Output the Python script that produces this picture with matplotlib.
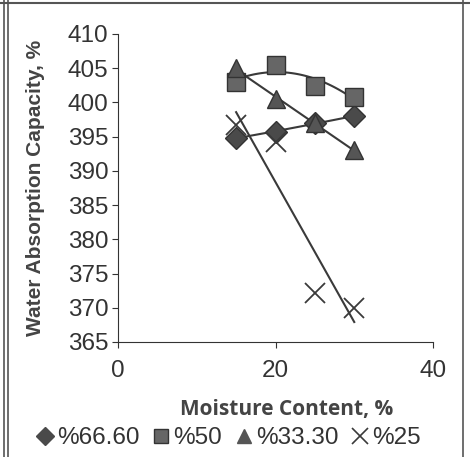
import numpy as np
import matplotlib.pyplot as plt
from matplotlib.lines import Line2D

# data
moisture = [15, 20, 25, 30]
wac_66 = [394.8, 395.7, 397.0, 398.0]
wac_50 = [403.0, 405.5, 402.4, 400.8]
wac_33 = [405.0, 400.5, 397.0, 393.0]
wac_25 = [396.7, 394.2, 372.1, 370.0]
labels = ["%66.60", "%50", "%33.30", "%25"]

plt.rcParams['font.family'] = ['Liberation Sans', 'DejaVu Sans']
col = '#4a4a4a'

fig = plt.figure(figsize=(4.7, 4.57), dpi=100)
ax = fig.add_axes([118 / 470, 1 - 342 / 457, 315 / 470, 308 / 457])

xs = np.linspace(15, 30, 100)
# trend lines (excel style)
for ys, deg in [(wac_66, 2), (wac_50, 2), (wac_33, 1), (wac_25, 1)]:
    p = np.polyfit(moisture, ys, deg)
    ax.plot(xs, np.polyval(p, xs), color='#3a3a3a', lw=1.5, zorder=2)

ax.plot(moisture, wac_66, 'D', ms=11, color=col, mec='#333333', ls='none', zorder=3)
ax.plot(moisture, wac_50, 's', ms=12.5, color='#666666', mec='#333333', ls='none', zorder=3)
ax.plot(moisture, wac_33, '^', ms=13, color='#555555', mec='#333333', ls='none', zorder=3)
ax.plot(moisture, wac_25, 'x', ms=14, mew=1.3, color='#3a3a3a', ls='none', zorder=3)

ax.set_xlim(0, 40)
ax.set_ylim(365, 410)
ax.set_xticks([0, 20, 40])
ax.set_yticks(np.arange(365, 411, 5))
ax.spines['top'].set_visible(False)
ax.spines['right'].set_visible(False)
ax.spines['left'].set_color('#333333')
ax.spines['bottom'].set_color('#333333')
ax.tick_params(axis='both', labelsize=17.5, colors='#333333', length=4)
ax.tick_params(axis='x', pad=9)
ax.tick_params(axis='y', pad=3)
ax.set_ylabel("Water Absorption Capacity, %", fontsize=15, fontweight='bold', color='#444444')
ax.yaxis.set_label_coords(-(118 - 45) / 315, 0.5)
fig.text(287 / 470, 1 - 410 / 457, "Moisture Content, %", fontsize=15, fontweight='bold',
         color='#444444', ha='center', va='center', family=['Open Sans', 'DejaVu Sans'])

handles = [
    Line2D([], [], marker='D', ms=9, color=col, ls='none'),
    Line2D([], [], marker='s', ms=10, color='#666666', mec='#333333', ls='none'),
    Line2D([], [], marker='^', ms=10, color='#555555', ls='none'),
    Line2D([], [], marker='x', ms=12, mew=1.2, color='#3a3a3a', ls='none'),
]
fig.legend(handles, labels, loc='center', bbox_to_anchor=(228 / 470, 1 - 438 / 457), ncol=4,
           frameon=False, fontsize=17.5, handlelength=0.8, handletextpad=0.1, columnspacing=0.5,
           labelcolor='#333333', borderpad=0)

# frame around the picture
for xx in [4 / 470, 8 / 470, 463 / 470]:
    fig.add_artist(Line2D([xx, xx], [0, 1], color='#555555', lw=1.2))
fig.add_artist(Line2D([0, 1], [1 - 3 / 457, 1 - 3 / 457], color='#555555', lw=1.5))

fig.savefig("out.png", dpi=100)
